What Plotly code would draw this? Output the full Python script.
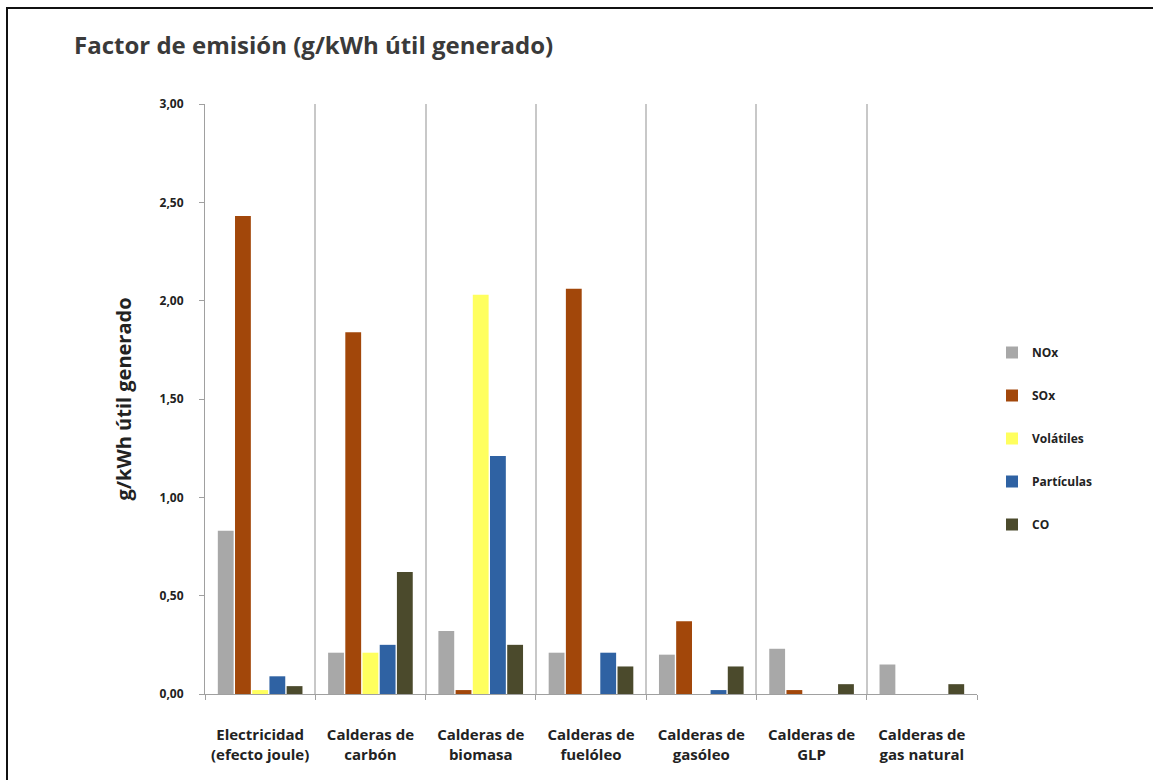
import plotly.graph_objects as go

categories = [
    "Electricidad<br>(efecto joule)",
    "Calderas de<br>carbón",
    "Calderas de<br>biomasa",
    "Calderas de<br>fuelóleo",
    "Calderas de<br>gasóleo",
    "Calderas de<br>GLP",
    "Calderas de<br>gas natural",
]
series_names = ["NOx", "SOx", "Volátiles", "Partículas", "CO"]
nox = [0.83, 0.21, 0.32, 0.21, 0.20, 0.23, 0.15]
sox = [2.43, 1.84, 0.02, 2.06, 0.37, 0.02, 0.00]
volatiles = [0.02, 0.21, 2.03, 0.00, 0.00, 0.00, 0.00]
particulas = [0.09, 0.25, 1.21, 0.21, 0.02, 0.00, 0.00]
co = [0.04, 0.62, 0.25, 0.14, 0.14, 0.05, 0.05]
colors = ["#A8A8A8", "#A2470A", "#FFFF5E", "#2F62A3", "#4B4A2C"]
y_ticks = [0, 0.5, 1.0, 1.5, 2.0, 2.5, 3.0]

fig = go.Figure()
for name, vals, c in zip(series_names, [nox, sox, volatiles, particulas, co], colors):
    fig.add_trace(go.Bar(
        x=categories, y=vals, name=name, legendgroup=name,
        marker=dict(color=c, line=dict(width=0)),
    ))

W, H = 1153, 780
L, R, T, B = 205, 977, 104, 694
bold12 = dict(family="Open Sans", size=12, color="#222222", weight="bold")
fig.update_layout(
    width=W, height=H,
    margin=dict(l=L, r=W - R, t=T, b=H - B, pad=0),
    paper_bgcolor="white", plot_bgcolor="white",
    separators=",.",
    barmode="group", bargap=0.22, bargroupgap=0.08,
    font=dict(family="Open Sans", color="#222222", size=12),
    title=dict(
        text="Factor de emisión (g/kWh útil generado)",
        x=74 / W, xanchor="left", y=1 - 46 / H, yanchor="middle",
        font=dict(family="Open Sans", size=24, color="#3A3A3A", weight="bold"),
    ),
    xaxis=dict(
        type="category", tickson="boundaries",
        showgrid=True, gridcolor="#C8C8C8", gridwidth=1.5,
        showline=True, linecolor="#A0A0A0", linewidth=1,
        ticks="outside", ticklen=5, tickcolor="#A0A0A0",
        tickfont=dict(family="Open Sans", size=15, color="#222222", weight="bold"),
        ticklabelstandoff=27,
    ),
    yaxis=dict(
        range=[0, 3], tickvals=y_ticks, tickformat=".2f",
        showgrid=False, zeroline=False,
        showline=True, linecolor="#A0A0A0", linewidth=1,
        ticks="outside", ticklen=5, tickcolor="#A0A0A0",
        tickfont=bold12,
        ticklabelstandoff=13,
        title=dict(text="g/kWh útil generado", standoff=22,
                   font=dict(family="Open Sans", size=20, color="#222222", weight="bold")),
    ),
    legend=dict(
        x=(992 - L) / (R - L), xanchor="left",
        y=(B - 338) / (B - T), yanchor="top",
        traceorder="grouped", tracegroupgap=24,
        itemwidth=30,
        font=bold12,
        bgcolor="rgba(0,0,0,0)",
    ),
    shapes=[dict(
        type="rect", xref="paper", yref="paper",
        x0=(7 - L) / (R - L), x1=(1170 - L) / (R - L),
        y0=(B - 800) / (B - T), y1=(B - 8) / (B - T),
        line=dict(color="#111111", width=2), layer="above",
    )],
)
fig.write_html(
    "out.html",
    config={"displayModeBar": False},
    post_script="document.body.style.margin='0';document.body.style.overflow='hidden';",
)
